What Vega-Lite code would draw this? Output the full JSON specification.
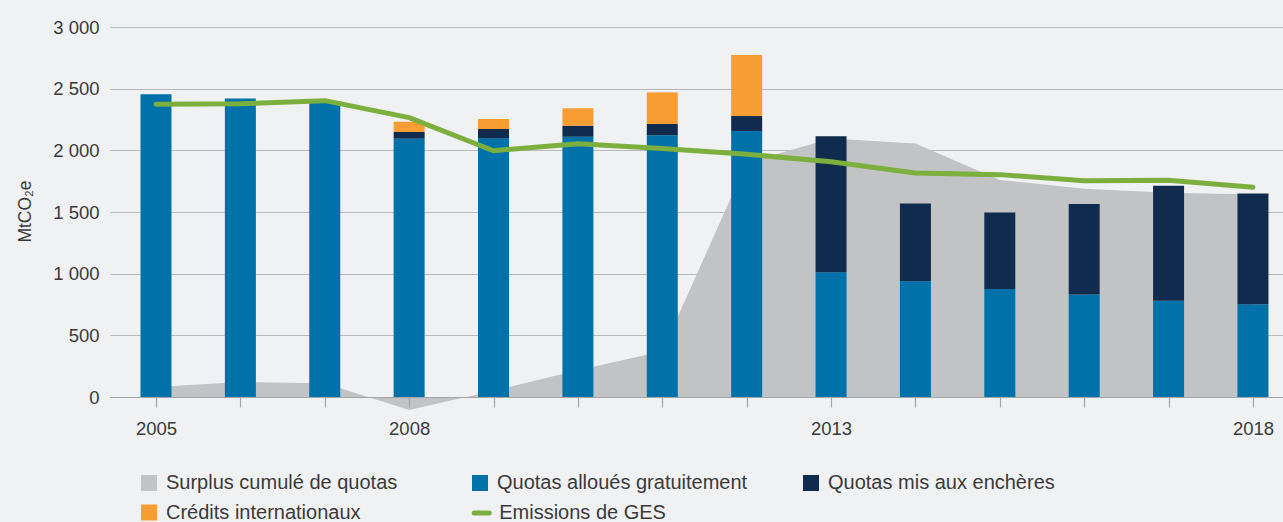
{
  "$schema": "https://vega.github.io/schema/vega-lite/v6.json",
  "width": 1173,
  "height": 370,
  "autosize": {"type": "none"},
  "padding": {"left": 110, "top": 27, "right": 0, "bottom": 125},
  "background": "#f0f1f3",
  "config": {
    "view": {"stroke": null},
    "font": "Liberation Sans"
  },
  "datasets": {
    "surplus": [
      {"annee": 2005, "valeur": 81},
      {"annee": 2006, "valeur": 122},
      {"annee": 2007, "valeur": 112},
      {"annee": 2008, "valeur": -105},
      {"annee": 2009, "valeur": 50},
      {"annee": 2010, "valeur": 217},
      {"annee": 2011, "valeur": 370},
      {"annee": 2012, "valeur": 1900},
      {"annee": 2013, "valeur": 2096},
      {"annee": 2014, "valeur": 2056},
      {"annee": 2015, "valeur": 1760},
      {"annee": 2016, "valeur": 1689},
      {"annee": 2017, "valeur": 1656},
      {"annee": 2018, "valeur": 1642}
    ],
    "quotas": [
      {"annee": 2005, "serie": "Quotas alloués gratuitement", "rang": 1, "valeur": 2455},
      {"annee": 2006, "serie": "Quotas alloués gratuitement", "rang": 1, "valeur": 2420},
      {"annee": 2007, "serie": "Quotas alloués gratuitement", "rang": 1, "valeur": 2398},
      {"annee": 2008, "serie": "Quotas alloués gratuitement", "rang": 1, "valeur": 2095},
      {"annee": 2008, "serie": "Quotas mis aux enchères", "rang": 2, "valeur": 54},
      {"annee": 2008, "serie": "Crédits internationaux", "rang": 3, "valeur": 83},
      {"annee": 2009, "serie": "Quotas alloués gratuitement", "rang": 1, "valeur": 2097},
      {"annee": 2009, "serie": "Quotas mis aux enchères", "rang": 2, "valeur": 76},
      {"annee": 2009, "serie": "Crédits internationaux", "rang": 3, "valeur": 81},
      {"annee": 2010, "serie": "Quotas alloués gratuitement", "rang": 1, "valeur": 2110},
      {"annee": 2010, "serie": "Quotas mis aux enchères", "rang": 2, "valeur": 90},
      {"annee": 2010, "serie": "Crédits internationaux", "rang": 3, "valeur": 141},
      {"annee": 2011, "serie": "Quotas alloués gratuitement", "rang": 1, "valeur": 2122},
      {"annee": 2011, "serie": "Quotas mis aux enchères", "rang": 2, "valeur": 92},
      {"annee": 2011, "serie": "Crédits internationaux", "rang": 3, "valeur": 256},
      {"annee": 2012, "serie": "Quotas alloués gratuitement", "rang": 1, "valeur": 2157},
      {"annee": 2012, "serie": "Quotas mis aux enchères", "rang": 2, "valeur": 121},
      {"annee": 2012, "serie": "Crédits internationaux", "rang": 3, "valeur": 495},
      {"annee": 2013, "serie": "Quotas alloués gratuitement", "rang": 1, "valeur": 1011},
      {"annee": 2013, "serie": "Quotas mis aux enchères", "rang": 2, "valeur": 1103},
      {"annee": 2014, "serie": "Quotas alloués gratuitement", "rang": 1, "valeur": 938},
      {"annee": 2014, "serie": "Quotas mis aux enchères", "rang": 2, "valeur": 630},
      {"annee": 2015, "serie": "Quotas alloués gratuitement", "rang": 1, "valeur": 876},
      {"annee": 2015, "serie": "Quotas mis aux enchères", "rang": 2, "valeur": 619},
      {"annee": 2016, "serie": "Quotas alloués gratuitement", "rang": 1, "valeur": 832},
      {"annee": 2016, "serie": "Quotas mis aux enchères", "rang": 2, "valeur": 733},
      {"annee": 2017, "serie": "Quotas alloués gratuitement", "rang": 1, "valeur": 781},
      {"annee": 2017, "serie": "Quotas mis aux enchères", "rang": 2, "valeur": 932},
      {"annee": 2018, "serie": "Quotas alloués gratuitement", "rang": 1, "valeur": 752},
      {"annee": 2018, "serie": "Quotas mis aux enchères", "rang": 2, "valeur": 899}
    ],
    "emissions": [
      {"annee": 2005, "valeur": 2373},
      {"annee": 2006, "valeur": 2378},
      {"annee": 2007, "valeur": 2403},
      {"annee": 2008, "valeur": 2265},
      {"annee": 2009, "valeur": 1997},
      {"annee": 2010, "valeur": 2054},
      {"annee": 2011, "valeur": 2014},
      {"annee": 2012, "valeur": 1968},
      {"annee": 2013, "valeur": 1908},
      {"annee": 2014, "valeur": 1816},
      {"annee": 2015, "valeur": 1803},
      {"annee": 2016, "valeur": 1754},
      {"annee": 2017, "valeur": 1757},
      {"annee": 2018, "valeur": 1700}
    ]
  },
  "layer": [
    {
      "layer": [
        {
          "data": {"name": "surplus"},
          "mark": {"type": "area", "opacity": 1},
          "encoding": {
            "x": {
              "field": "annee", "type": "quantitative",
              "scale": {"domain": [2004.455, 2018.356], "nice": false, "zero": false, "padding": 0},
              "axis": {
                "values": [2005, 2006, 2007, 2008, 2009, 2010, 2011, 2012, 2013, 2014, 2015, 2016, 2017, 2018],
                "labelExpr": "(datum.value === 2005 || datum.value === 2008 || datum.value === 2013 || datum.value === 2018) ? datum.value + '' : ''",
                "title": null, "grid": false,
                "domainColor": "#a3a5a8", "domainWidth": 1.2,
                "tickColor": "#a3a5a8", "tickSize": 10, "tickWidth": 1.2,
                "labelFontSize": 18.5, "labelColor": "#3a3a3a", "labelPadding": 12,
                "labelFlush": false, "labelOverlap": false, "zindex": 1
              }
            },
            "y": {
              "field": "valeur", "type": "quantitative", "stack": null,
              "scale": {"domain": [0, 3000], "nice": false},
              "axis": {
                "values": [0, 500, 1000, 1500, 2000, 2500, 3000],
                "labelExpr": "replace(format(datum.value, ','), ',', ' ')",
                "title": "MtCO₂e",
                "grid": true, "gridColor": "#b7b9bc", "gridWidth": 1.2,
                "domain": false, "ticks": false,
                "labelPadding": 11, "labelFontSize": 18.5, "labelColor": "#3a3a3a",
                "titleFontSize": 17.5, "titleFontWeight": "normal", "titleColor": "#3a3a3a",
                "titleX": -85, "titleY": 184, "titleAngle": -90, "titleAlign": "center", "titleBaseline": "middle",
                "zindex": 0
              }
            },
            "color": {
              "datum": "Surplus cumulé de quotas",
              "type": "nominal",
              "title": null,
              "scale": {
                "domain": ["Surplus cumulé de quotas", "Quotas alloués gratuitement", "Quotas mis aux enchères", "Crédits internationaux"],
                "range": ["#c2c3c5", "#0072a9", "#112b4f", "#f89c34"]
              },
              "legend": {
                "orient": "none", "legendX": 29, "legendY": 446,
                "direction": "horizontal", "columns": 3, "gridAlign": "all",
                "columnPadding": 53, "rowPadding": 9.5, "title": null,
                "labelFontSize": 20, "labelColor": "#3a3a3a", "labelLimit": 400,
                "labelOffset": 7, "symbolSize": 256, "symbolType": "square",
                "symbolStrokeWidth": 0, "symbolOpacity": 1, "padding": 0
              }
            }
          }
        },
        {
          "data": {"name": "quotas"},
          "mark": {"type": "bar", "size": 31},
          "encoding": {
            "x": {"field": "annee", "type": "quantitative"},
            "y": {"field": "valeur", "type": "quantitative", "stack": "zero"},
            "color": {"field": "serie", "type": "nominal", "title": null},
            "order": {"field": "rang", "type": "quantitative", "sort": "ascending"}
          }
        }
      ]
    },
    {
      "data": {"name": "emissions"},
      "mark": {"type": "line", "strokeWidth": 5, "strokeCap": "round", "strokeJoin": "round"},
      "encoding": {
        "x": {"field": "annee", "type": "quantitative"},
        "y": {"field": "valeur", "type": "quantitative", "stack": null},
        "color": {
          "datum": "Emissions de GES", "type": "nominal", "title": null,
          "scale": {"domain": ["Emissions de GES"], "range": ["#7daf3e"]},
          "legend": {
            "orient": "none", "legendX": 361.7, "legendY": 476,
            "title": null, "symbolType": "stroke", "symbolSize": 225,
            "symbolStrokeWidth": 5, "labelOffset": 7.5,
            "labelFontSize": 20, "labelColor": "#3a3a3a", "labelLimit": 400, "padding": 0,
            "encode": {"symbols": {"update": {"strokeCap": {"value": "round"}}}}
          }
        }
      }
    }
  ],
  "resolve": {"scale": {"color": "independent"}, "legend": {"color": "independent"}}
}
